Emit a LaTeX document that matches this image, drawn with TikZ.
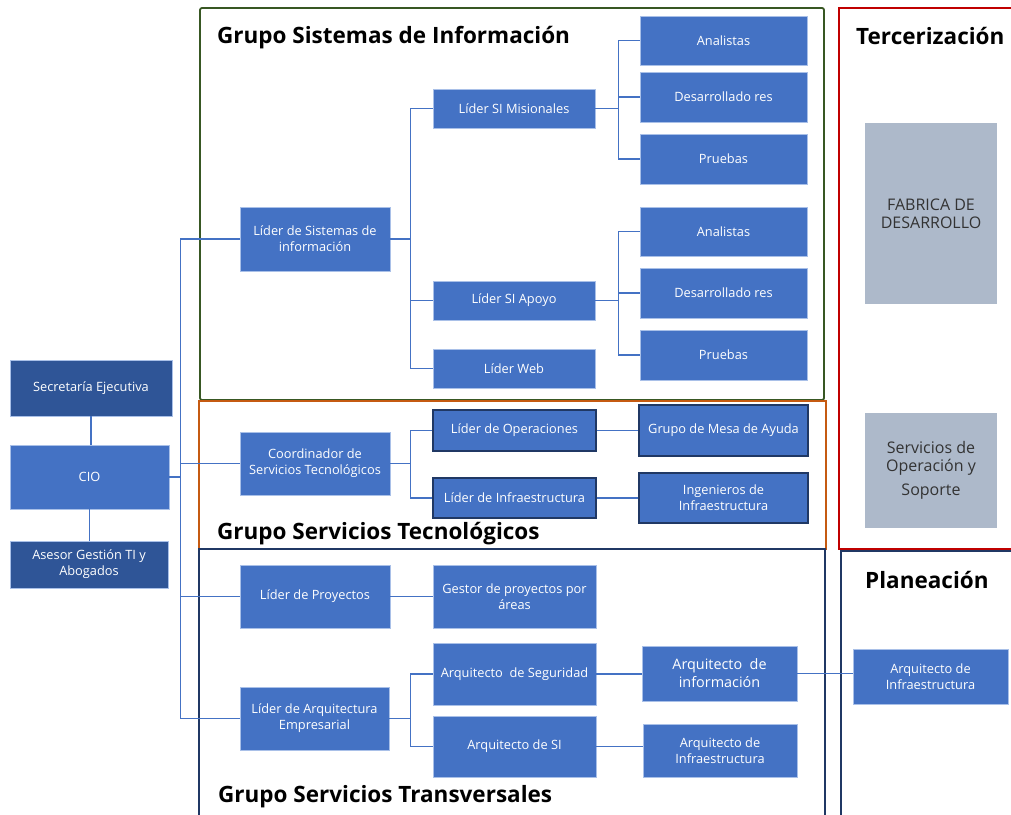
\documentclass[tikz,border=0pt]{standalone}
\usepackage{fontspec}
\setmainfont{Open Sans}
\definecolor{accent}{HTML}{4472C4}
\definecolor{darkfill}{HTML}{2F5597}
\definecolor{boxedge}{HTML}{A9C0E8}
\definecolor{darkedge}{HTML}{203864}
\definecolor{frgreen}{HTML}{385723}
\definecolor{frorange}{HTML}{C55A11}
\definecolor{frnavy}{HTML}{203864}
\definecolor{frred}{HTML}{C00000}
\definecolor{grayfill}{HTML}{ADB9CA}
\definecolor{graytext}{HTML}{333333}
\newcommand{\bx}[7][]{\node[box,#1,minimum width={#5-#3},minimum height={#6-#4}] (#2) at ({(#3+#5)/2},{(#4+#6)/2}) {#7};}
\begin{document}
\begin{tikzpicture}[x=1pt,y=-1pt,
  box/.style={draw=boxedge,line width=0.6pt,fill=accent,text=white,align=center,inner sep=1pt,
    font=\fontsize{12.8}{16}\selectfont},
  dbox/.style={draw=darkedge,line width=1.4pt},
  sbox/.style={fill=darkfill},
  gbox/.style={fill=grayfill,draw=none,text=graytext,font=\fontsize{16}{18}\selectfont},
  link/.style={draw=accent,line width=1.2pt},
  frame/.style={line width=1.8pt},
  title/.style={anchor=west,inner sep=0pt,font=\bfseries\fontsize{22.5}{26}\selectfont}]
\useasboundingbox (0,0) rectangle (1011,814);
% frames
\draw[frame,frgreen,rounded corners=2pt] (200,8) rectangle (824,400);
\draw[frame,frorange] (199,401) rectangle (826,549);
\draw[frame,frnavy] (199,549) rectangle (825,830);
\draw[frame,frred] (839,8) rectangle (1030,549);
\draw[frame,frnavy] (841,551) rectangle (1030,830);
% titles
\node[title] (t1) at (217,38) {Grupo Sistemas de Información};
\node[title] (t2) at (217,534) {Grupo Servicios Tecnológicos};
\node[title] (t3) at (218,797) {Grupo Servicios Transversales};
\node[title] (t4) at (856,36) {Tercerización};
\node[title] (t5) at (865,580) {Planeación};
% left column
\bx[sbox]{sec}{10}{360}{172}{416}{Secretaría Ejecutiva}
\bx{cio}{10}{445}{169}{509}{CIO}
\bx[sbox]{ase}{10}{541}{168}{588}{Asesor Gestión TI y\\Abogados}
% second column
\bx{lsi}{240}{207}{390}{271}{Líder de Sistemas de\\información}
\bx{cst}{240}{432}{390}{495}{Coordinador de\\Servicios Tecnológicos}
\bx{lpr}{240}{565}{390}{628}{Líder de Proyectos}
\bx{lae}{240}{687}{389}{750}{Líder de Arquitectura\\Empresarial}
% third column
\bx{mis}{433}{89}{595}{128}{Líder SI Misionales}
\bx{apo}{433}{281}{595}{320}{Líder SI Apoyo}
\bx{web}{433}{349}{595}{388}{Líder Web}
\bx[dbox]{ope}{433}{410}{596}{451}{Líder de Operaciones}
\bx[dbox]{inf}{433}{478}{596}{518}{Líder de Infraestructura}
\bx{gpa}{433}{565}{596}{628}{Gestor de proyectos por\\áreas}
\bx{ase2}{433}{643}{596}{705}{Arquitecto \ de Seguridad}
\bx{asi}{433}{716}{596}{777}{Arquitecto de SI}
% fourth column
\bx{an1}{640}{16}{807}{65}{Analistas}
\bx{de1}{640}{72}{807}{122}{Desarrollado res}
\bx{pr1}{640}{134}{807}{184}{Pruebas}
\bx{an2}{640}{207}{807}{256}{Analistas}
\bx{de2}{640}{268}{807}{318}{Desarrollado res}
\bx{pr2}{640}{330}{807}{380}{Pruebas}
\bx[dbox]{mes}{639}{405}{808}{456}{Grupo de Mesa de Ayuda}
\bx[dbox]{ing}{639}{473}{808}{523}{Ingenieros de\\Infraestructura}
\bx[font=\fontsize{14.4}{18}\selectfont]{ainf}{642}{646}{797}{701}{Arquitecto \ de\\información}
\bx{ainfr}{643}{724}{797}{777}{Arquitecto de\\Infraestructura}
% right
\bx{pinf}{853}{649}{1008}{704}{Arquitecto de\\Infraestructura}
\bx[gbox]{fab}{865}{123}{997}{304}{FABRICA DE\\DESARROLLO}
\bx[gbox]{sop}{865}{413}{997}{528}{Servicios de\\Operación y\\[6pt]Soporte}
% connectors
\draw[link] (sec.south) -- (sec.south |- cio.north);
\draw[link] (cio.south) -- (cio.south |- ase.north);
\foreach \t in {lsi,cst,lpr,lae} \draw[link] (cio.east) -- ++(11,0) |- (\t.west);
\foreach \t in {mis,apo,web} \draw[link] (lsi.east) -- ++(20,0) |- (\t.west);
\foreach \t in {ope,inf} \draw[link] (cst.east) -- ++(20,0) |- (\t.west);
\foreach \t in {ase2,asi} \draw[link] (lae.east) -- ++(21,0) |- (\t.west);
\draw[link] (lpr.east) -- (gpa.west);
\foreach \t in {an1,de1,pr1} \draw[link] (mis.east) -- ++(23,0) |- (\t.west);
\foreach \t in {an2,de2,pr2} \draw[link] (apo.east) -- ++(23,0) |- (\t.west);
\draw[link] (ope.east) -- (mes.west |- ope.east);
\draw[link] (inf.east) -- (ing.west |- inf.east);
\draw[link] (ase2.east) -- (ainf.west |- ase2.east);
\draw[link] (asi.east) -- (ainfr.west |- asi.east);
\draw[link] (ainf.east) -- (ainf.east -| pinf.west);
\end{tikzpicture}
\end{document}
